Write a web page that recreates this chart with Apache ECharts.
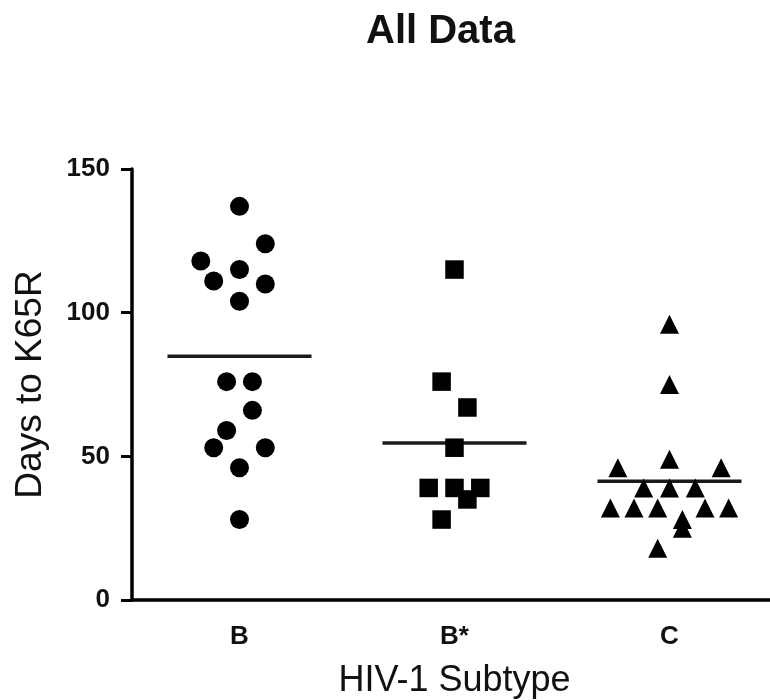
<!DOCTYPE html>
<html>
<head>
<meta charset="utf-8">
<script src="https://cdn.jsdelivr.net/npm/echarts@6/dist/echarts.min.js"></script>
<style>
  html, body { margin: 0; padding: 0; background: #fff; }
  #main { width: 770px; height: 700px; }
</style>
</head>
<body>
<div id="main"></div>
<script>
// subtypes on the x axis
var categories = ['B', 'B*', 'C'];
var yTicks = [0, 50, 100, 150];

// days to K65R
var daysB = [137, 124, 118, 115, 111, 110, 104, 76, 76, 66, 59, 53, 53, 46, 28];
var daysBstar = [115, 76, 67, 53, 39, 39, 39, 35, 28];
var daysC = [96, 75, 49, 46, 46, 39, 39, 39, 32, 32, 32, 32, 32, 28, 25, 18];

// horizontal scatter of each point inside its column (fraction of a column)
var jitterB = [0, 0.12, -0.18, 0, -0.12, 0.12, 0, -0.06, 0.06, 0.06, -0.06, -0.12, 0.12, 0, 0];
var jitterBstar = [0, -0.06, 0.06, 0, -0.12, 0, 0.12, 0.06, -0.06];
var jitterC = [0, 0, 0, -0.24, 0.24, -0.12, 0, 0.12, -0.275, -0.165, -0.055, 0.165, 0.275, 0.06, 0.06, -0.055];

// horizontal mean lines
var means = [84.8, 54.6, 41.3];

var font = 'Liberation Sans, Arial, sans-serif';

function points(col, vals, jit) {
  return vals.map(function (v, i) { return [col + jit[i], v]; });
}

var groups = [
  { vals: daysB, jit: jitterB, symbol: 'circle', size: 19 },
  { vals: daysBstar, jit: jitterBstar, symbol: 'rect', size: 18.5 },
  { vals: daysC, jit: jitterC, symbol: 'triangle', size: 19 }
];

var series = [];
groups.forEach(function (g, col) {
  series.push({
    type: 'scatter',
    xAxisIndex: 1,
    symbol: g.symbol,
    symbolSize: g.size,
    itemStyle: { color: '#000', opacity: 1 },
    data: points(col, g.vals, g.jit),
    z: 3
  });
  series.push({
    type: 'line',
    xAxisIndex: 1,
    symbol: 'none',
    lineStyle: { color: '#1a1a1a', width: 3.5 },
    data: [[col - 0.335, means[col]], [col + 0.335, means[col]]],
    z: 2
  });
});

var chart = echarts.init(document.getElementById('main'));
chart.setOption({
  animation: false,
  backgroundColor: '#fff',
  title: {
    text: 'All Data',
    left: 366,
    top: 12,
    padding: 0,
    textStyle: { fontFamily: font, fontSize: 40, fontWeight: 'bold', color: '#111' }
  },
  grid: { left: 132, top: 169, width: 645, height: 431, containLabel: false, outerBoundsMode: 'none' },
  xAxis: [{
    type: 'category',
    data: categories,
    name: 'HIV-1 Subtype',
    nameLocation: 'middle',
    nameGap: 63,
    nameTextStyle: { fontFamily: font, fontSize: 36, color: '#111' },
    axisLine: { lineStyle: { color: '#000', width: 3.5 } },
    axisTick: { alignWithLabel: true, length: 11, lineStyle: { color: '#000', width: 3 } },
    axisLabel: { margin: 24, fontFamily: font, fontSize: 26, fontWeight: 'bold', color: '#111' },
    splitLine: { show: false }
  }, {
    type: 'value',
    min: -0.5,
    max: 2.5,
    show: false
  }],
  yAxis: {
    type: 'value',
    min: yTicks[0],
    max: yTicks[yTicks.length - 1],
    interval: 50,
    name: 'Days to K65R',
    nameLocation: 'middle',
    nameGap: 83,
    nameRotate: 90,
    nameTextStyle: { fontFamily: font, fontSize: 37, color: '#111' },
    axisLine: { show: true, onZero: false, lineStyle: { color: '#000', width: 3.5 } },
    axisTick: { show: true, length: 11, lineStyle: { color: '#000', width: 3 } },
    axisLabel: { margin: 22, fontFamily: font, fontSize: 26, fontWeight: 'bold', color: '#111' },
    splitLine: { show: false }
  },
  series: series
});
</script>
</body>
</html>
